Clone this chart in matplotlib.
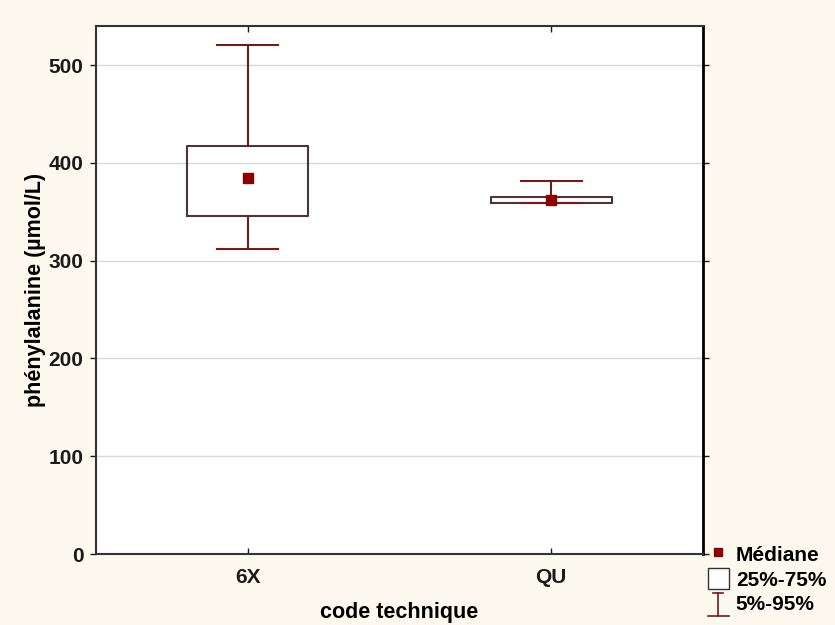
import matplotlib.pyplot as plt
from matplotlib.lines import Line2D
from matplotlib.patches import Patch
from matplotlib.legend_handler import HandlerBase


plt.rcParams['font.family'] = ['Liberation Sans', 'DejaVu Sans']
plt.rcParams['font.weight'] = 'bold'

groups = ['6X', 'QU']
medians = [385, 362.5]
q1 = [345.5, 359]
q3 = [417, 365]
p5 = [312, 359]
p95 = [521, 381]

box_col = '#4a3636'
whisk_col = '#6e1c1c'
med_col = '#8b0000'


class WhiskerHandler(HandlerBase):
    # draws the "I" shaped whisker symbol of the legend
    def create_artists(self, legend, orig, xd, yd, w, h, fontsize, trans):
        cx = -xd + w / 2
        y0, y1 = -yd - 2, -yd + h - 1
        c = w * 0.5
        arts = [Line2D([cx, cx], [y0, y1]),
                Line2D([cx - c, cx + c], [y0, y0]),
                Line2D([cx - c * 0.5, cx + c * 0.5], [y1, y1])]
        for a in arts:
            a.set_color(whisk_col)
            a.set_linewidth(1.2)
            a.set_transform(trans)
        return arts


fig = plt.figure(figsize=(8.35, 6.25), dpi=100, facecolor='#fdf9ef')
ax = fig.add_axes([96/835, 1-554/625, (703-96)/835, (554-26)/625])
ax.set_facecolor('white')

stats = []
for i in range(len(groups)):
    stats.append(dict(label=groups[i], med=medians[i], q1=q1[i], q3=q3[i],
                      whislo=p5[i], whishi=p95[i], fliers=[]))

pos = [1, 2]
ax.bxp(stats, positions=pos, widths=0.4, capwidths=0.2, showfliers=False,
       boxprops=dict(color=box_col, linewidth=1.5),
       whiskerprops=dict(color=whisk_col, linewidth=1.5),
       capprops=dict(color=whisk_col, linewidth=1.5),
       medianprops=dict(visible=False), zorder=3)
ax.plot(pos, medians, 's', color=med_col, markersize=7, linestyle='none', zorder=4)

ax.set_xlim(0.5, 2.5)
ax.set_ylim(0, 540)
ax.set_yticks([0, 100, 200, 300, 400, 500])
ax.set_xticks(pos)
ax.set_xticklabels(groups)
ax.yaxis.grid(True, color='#d9d9d9', linewidth=1)
ax.set_axisbelow(True)
ax.tick_params(axis='both', labelsize=15, colors='#1a1a1a', length=4, width=1)
ax.tick_params(axis='x', direction='in', top=True, length=4, pad=10)
ax.tick_params(axis='y', direction='out', right=True, pad=5)
for lab in ax.get_xticklabels() + ax.get_yticklabels():
    lab.set_fontweight('bold')

for s in ['left', 'bottom', 'top']:
    ax.spines[s].set_color('#333333')
    ax.spines[s].set_linewidth(1.5)
ax.spines['right'].set_color('black')
ax.spines['right'].set_linewidth(2)

ax.set_xlabel('code technique', fontsize=15.5, fontweight='bold', labelpad=11)
ax.set_ylabel('phénylalanine (µmol/L)', fontsize=15.5, fontweight='bold', labelpad=2)

w_handle = Line2D([], [])
handles = [Line2D([], [], marker='s', color=med_col, linestyle='none', markersize=6),
           Patch(facecolor='white', edgecolor='#333333', linewidth=1),
           w_handle]
fig.legend(handles, ['Médiane', '25%-75%', '5%-95%'], loc='lower right',
           bbox_to_anchor=(1.012, -0.012), frameon=False,
           handlelength=1.0, handleheight=1.2, handletextpad=0.35, labelspacing=0.12,
           prop=dict(weight='bold', size=15),
           handler_map={w_handle: WhiskerHandler()})

fig.savefig('out.png', dpi=100, facecolor=fig.get_facecolor())
